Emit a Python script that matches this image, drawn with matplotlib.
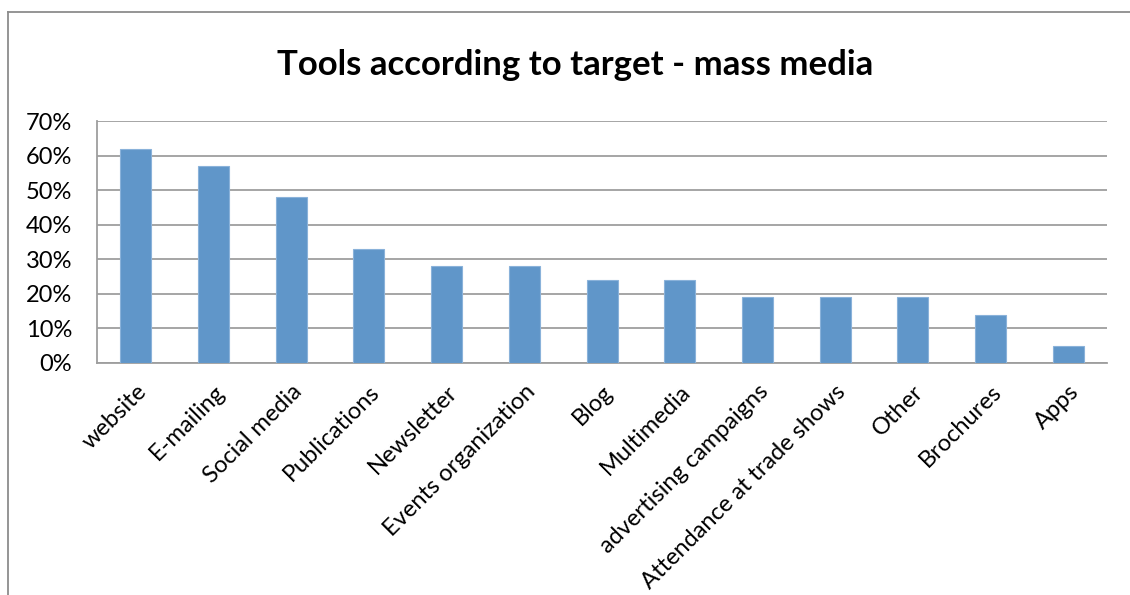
import matplotlib
matplotlib.use('Agg')
import matplotlib.pyplot as plt
from matplotlib.lines import Line2D
from matplotlib.ticker import PercentFormatter

# categories and shares (percent)
tools = ["website", "E-mailing", "Social media", "Publications", "Newsletter",
         "Events organization", "Blog", "Multimedia", "advertising campaigns",
         "Attendance at trade shows", "Other", "Brochures", "Apps"]
share = [62, 57, 48, 33, 28, 28, 24, 24, 19, 19, 19, 14, 5]
y_ticks = [0, 10, 20, 30, 40, 50, 60, 70]

plt.rcParams['font.family'] = ['Lato', 'DejaVu Sans']

fig = plt.figure(figsize=(11.3, 5.95), dpi=100)
ax = fig.add_axes([0.0858, 0.39, 0.894, 0.4066])

x = range(len(tools))
ax.bar(x, share, width=0.4, color="#6096C9", edgecolor="#8AB2DA", linewidth=0.8, zorder=3)

ax.set_xlim(-0.5, len(tools) - 0.5)
ax.set_ylim(0, 70)
ax.set_yticks(y_ticks)
ax.yaxis.set_major_formatter(PercentFormatter(decimals=0))
ax.grid(axis="y", color="#9e9e9e", linewidth=1.3, zorder=0)
ax.set_xticks(list(x))
ax.set_xticklabels(tools, rotation=45, ha="right", rotation_mode="anchor")
ax.tick_params(axis="both", length=0, labelsize=17)
ax.tick_params(axis="y", pad=18)
ax.tick_params(axis="x", pad=13)

for side in ["top", "right"]:
    ax.spines[side].set_visible(False)
for side in ["left", "bottom"]:
    ax.spines[side].set_color("#9e9e9e")
    ax.spines[side].set_linewidth(1.3)

fig.text(0.509, 0.89, "Tools according to target - mass media",
         ha="center", va="center", fontsize=25, fontweight="bold")

# chart frame along the top and left
fig.add_artist(Line2D([8 / 1130, 8 / 1130], [0, 1 - 12 / 595], color="#8c8c8c", linewidth=1.3))
fig.add_artist(Line2D([8 / 1130, 1], [1 - 12 / 595, 1 - 12 / 595], color="#8c8c8c", linewidth=1.3))

fig.savefig("out.png", dpi=100)
